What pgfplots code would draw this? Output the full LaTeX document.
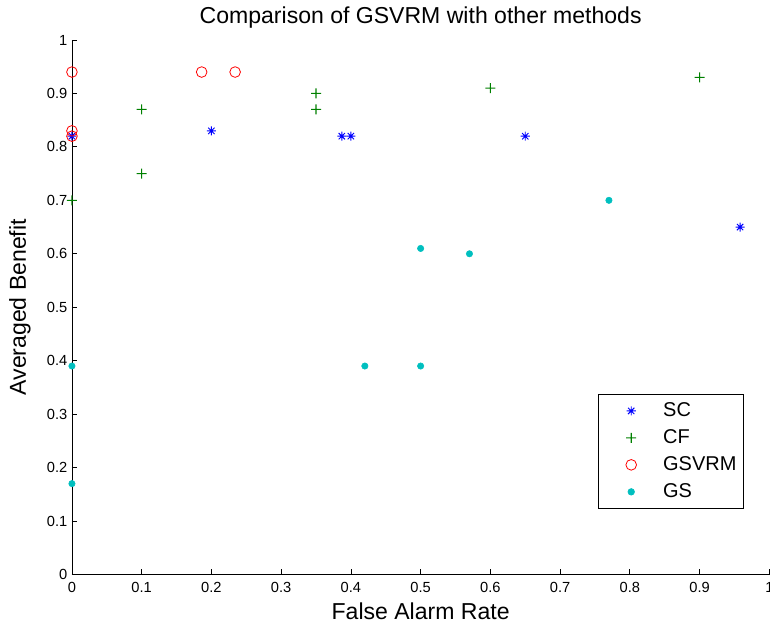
\documentclass[border=0pt]{standalone}
\usepackage{pgfplots}
\pgfplotsset{compat=1.18}
\usepackage{fontspec}
\setmainfont{Liberation Sans}
\definecolor{mblue}{rgb}{0,0,1}
\definecolor{mgreen}{rgb}{0,0.5,0}
\definecolor{mred}{rgb}{1,0,0}
\definecolor{mcyan}{rgb}{0,0.75,0.75}
\pgfdeclareplotmark{mstar}{%
  \pgfpathmoveto{\pgfpoint{-\pgfplotmarksize}{0pt}}\pgfpathlineto{\pgfpoint{\pgfplotmarksize}{0pt}}%
  \pgfpathmoveto{\pgfpoint{0pt}{-\pgfplotmarksize}}\pgfpathlineto{\pgfpoint{0pt}{\pgfplotmarksize}}%
  \pgfpathmoveto{\pgfpoint{-0.7\pgfplotmarksize}{-0.7\pgfplotmarksize}}\pgfpathlineto{\pgfpoint{0.7\pgfplotmarksize}{0.7\pgfplotmarksize}}%
  \pgfpathmoveto{\pgfpoint{-0.7\pgfplotmarksize}{0.7\pgfplotmarksize}}\pgfpathlineto{\pgfpoint{0.7\pgfplotmarksize}{-0.7\pgfplotmarksize}}%
  \pgfusepathqstroke}
\pgfdeclareplotmark{mplus}{%
  \pgfpathrectangle{\pgfpoint{-\pgfplotmarksize}{-0.4pt}}{\pgfpoint{2\pgfplotmarksize}{0.8pt}}%
  \pgfpathrectangle{\pgfpoint{-0.4pt}{-\pgfplotmarksize}}{\pgfpoint{0.8pt}{2\pgfplotmarksize}}%
  \pgfsetfillcolor{mgreen}\pgfusepathqfill}
\begin{document}
\begin{tikzpicture}
\begin{axis}[
  name=ax,
  scale only axis,
  width=523.5pt, height=401.25pt,
  xmin=0, xmax=1, ymin=0, ymax=1,
  axis x line=bottom, axis y line=left,
  axis line style={-, black, line width=0.6pt},
  tick align=inside,
  major tick length=4pt,
  tick style={black, line width=0.6pt},
  xtick={0,0.1,...,1.01}, ytick={0,0.1,...,1.01},
  /pgf/number format/assume math mode=true,
  /pgf/number format/fixed, /pgf/number format/precision=1,
  ticklabel style={font=\fontsize{11}{13}\selectfont},
  xticklabel style={yshift=-2.5pt},
  title={Comparison of GSVRM with other methods},
  title style={at={(axis description cs:0.5,1)}, anchor=center, yshift=10.5pt, font=\fontsize{17.3}{20}\selectfont},
  xlabel={False Alarm Rate},
  xlabel style={at={(axis description cs:0.5,0)}, anchor=center, yshift=-27.75pt, font=\fontsize{17.3}{20}\selectfont},
  ylabel={Averaged Benefit},
  ylabel style={at={(axis description cs:0,0.5)}, anchor=center, yshift=39pt, font=\fontsize{17.3}{20}\selectfont},
  clip=false,
  legend cell align=left,
  legend image code/.code={\path[draw=none,fill=none] (-5pt,-3pt) rectangle (39pt,3pt); \draw plot coordinates {(17pt,0pt)};},
  legend style={at={(0.963,0.123)}, anchor=south east, draw=black, line width=0.6pt,
    inner xsep=3pt, inner ysep=3.4pt, row sep=2.25pt,
    font=\fontsize{15}{18}\selectfont,
    nodes={text height=11pt, text depth=3pt, inner sep=2pt, anchor=west}},
]
\addplot[only marks, mark=mstar, mark size=3.4pt, color=mblue, mark options={line width=0.7pt}] coordinates {
 (0,0.82) (0.2,0.83) (0.387,0.82) (0.40,0.82) (0.65,0.82) (0.958,0.65)
};
\addlegendentry{SC}
\addplot[only marks, mark=mplus, mark size=3.75pt, color=mgreen, fill=mgreen] coordinates {
 (0,0.70) (0.1,0.87) (0.1,0.75) (0.35,0.90) (0.35,0.87) (0.6,0.91) (0.9,0.93)
};
\addlegendentry{CF}
\addplot[only marks, mark=o, mark size=4pt, color=mred, mark options={line width=0.6pt}] coordinates {
 (0,0.94) (0,0.83) (0,0.82) (0.186,0.94) (0.234,0.94)
};
\addlegendentry{GSVRM}
\addplot[only marks, mark=*, mark size=2.4pt, color=mcyan] coordinates {
 (0,0.39) (0,0.17) (0.42,0.39) (0.5,0.61) (0.5,0.39) (0.57,0.60) (0.77,0.70)
};
\addlegendentry{GS}
\end{axis}
\pgfresetboundingbox
\useasboundingbox ([xshift=-54pt,yshift=-37.5pt]ax.south west) rectangle ([xshift=0.5pt,yshift=30pt]ax.north east);
\end{tikzpicture}
\end{document}
